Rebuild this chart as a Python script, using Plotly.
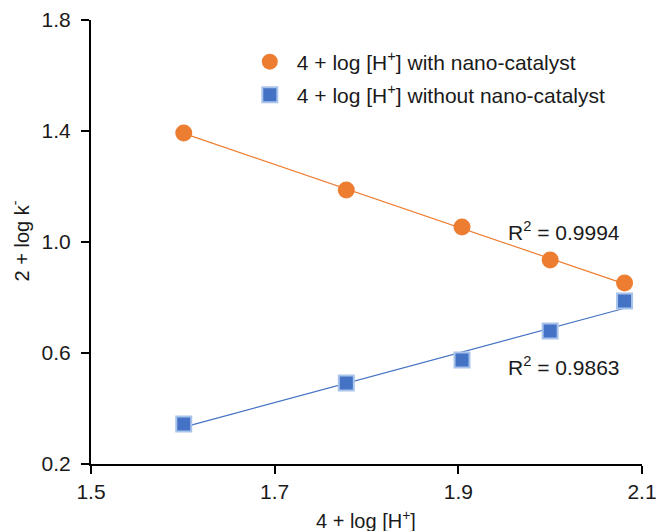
import numpy as np
import plotly.graph_objects as go

x_vals = [1.601, 1.778, 1.904, 2.000, 2.081]
y_with = [1.393, 1.187, 1.054, 0.935, 0.852]
y_without = [0.344, 0.492, 0.575, 0.679, 0.787]
r2_labels = ["R<sup>2</sup> = 0.9994", "R<sup>2</sup> = 0.9863"]
x_ticks = [1.5, 1.7, 1.9, 2.1]
y_ticks = [0.2, 0.6, 1.0, 1.4, 1.8]

ORANGE = "#ED7D31"
BLUE = "#4472C4"
TXT = "#1a1a1a"
FONT = "Liberation Sans, Arial, sans-serif"

fig = go.Figure()

def fit(xs, ys):
    m, c = np.polyfit(xs, ys, 1)
    xe = [min(xs), max(xs)]
    return xe, [m * v + c for v in xe]

fx, fy = fit(x_vals, y_with)
fig.add_trace(go.Scatter(x=fx, y=fy, mode="lines", line=dict(color=ORANGE, width=1.2),
                         showlegend=False, hoverinfo="skip"))
bx, by = fit(x_vals, y_without)
fig.add_trace(go.Scatter(x=bx, y=by, mode="lines", line=dict(color=BLUE, width=1.2),
                         showlegend=False, hoverinfo="skip"))

fig.add_trace(go.Scatter(x=x_vals, y=y_with, mode="markers",
                         name="4 + log [H<sup>+</sup>] with nano-catalyst", legend="legend",
                         marker=dict(symbol="circle", size=17, color=ORANGE, line=dict(width=0))))
fig.add_trace(go.Scatter(x=x_vals, y=y_without, mode="markers",
                         name="4 + log [H<sup>+</sup>] without nano-catalyst", legend="legend2",
                         marker=dict(symbol="square", size=15, color=BLUE,
                                     line=dict(width=2, color="#A9C4EB"))))

fig.add_annotation(x=1.952, y=1.04, text=r2_labels[0], showarrow=False, xanchor="left",
                   font=dict(size=21, color=TXT, family=FONT))
fig.add_annotation(x=1.952, y=0.553, text=r2_labels[1], showarrow=False, xanchor="left",
                   font=dict(size=21, color=TXT, family=FONT))

# axis titles
fig.add_annotation(xref="paper", yref="paper", x=0.499, y=-0.126, text="4 + log [H<sup>+</sup>]",
                   showarrow=False, xanchor="center", yanchor="middle",
                   font=dict(size=20, color=TXT, family=FONT))
fig.add_annotation(xref="paper", yref="paper", x=-0.13, y=0.502, text="2 + log k<sup>-</sup>",
                   showarrow=False, xanchor="center", yanchor="middle", textangle=-90,
                   font=dict(size=20, color=TXT, family=FONT))

axis_common = dict(showgrid=False, zeroline=False, showline=True, linecolor="black", linewidth=2,
                   ticks="outside", ticklen=8, tickwidth=2, tickcolor="black", automargin=False,
                   tickfont=dict(size=21, color=TXT, family=FONT))

fig.update_xaxes(range=[1.5, 2.1], tickvals=x_ticks, ticktext=[f"{v:.1f}" for v in x_ticks],
                 ticklabelstandoff=0, **axis_common)
fig.update_yaxes(range=[0.2, 1.8], tickvals=y_ticks, ticktext=[f"{v:.1f}" for v in y_ticks],
                 ticklabelstandoff=6, **axis_common)

leg_common = dict(xanchor="left", yanchor="middle", font=dict(size=21, color=TXT, family=FONT),
                  bgcolor="rgba(0,0,0,0)", itemsizing="trace", itemwidth=44)

fig.update_layout(
    width=659, height=531,
    margin=dict(l=91, r=17, t=20, b=67, autoexpand=False),
    paper_bgcolor="white", plot_bgcolor="white",
    font=dict(family=FONT, color=TXT),
    legend=dict(x=0.2755, y=0.9054, **leg_common),
    legend2=dict(x=0.2755, y=0.831, **leg_common),
)

fig.write_html("out.html")
